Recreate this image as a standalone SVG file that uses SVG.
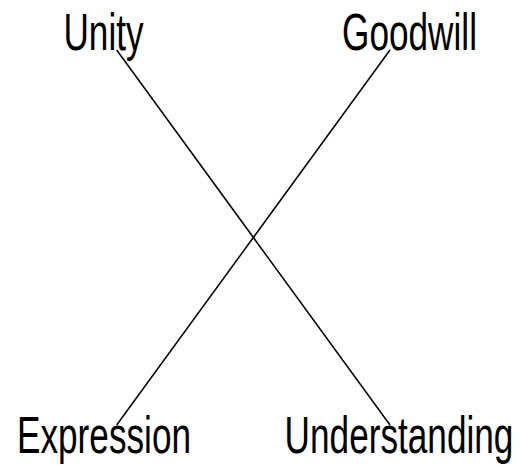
<svg xmlns="http://www.w3.org/2000/svg" width="520" height="465" viewBox="0 0 520 465">
<style>
.lbl{font-family:"Liberation Sans",Arial,sans-serif;font-size:51px;fill:#000;text-anchor:middle}
.edge{stroke:#000;stroke-width:1.5;fill:none}
</style>
<rect width="520" height="465" fill="#fff"/>
<g id="connectors">
<line class="edge" x1="116.7" y1="50" x2="390" y2="425"/>
<line class="edge" x1="390" y1="50" x2="116.7" y2="425"/>
</g>
<g id="unity"><text class="lbl" transform="translate(103.5,50) scale(0.69,1)">Unity</text></g>
<g id="goodwill"><text class="lbl" transform="translate(409.5,50) scale(0.69,1)">Goodwill</text></g>
<g id="expression"><text class="lbl" transform="translate(104,453) scale(0.69,1)">Expression</text></g>
<g id="understanding"><text class="lbl" transform="translate(399,453) scale(0.69,1)">Understanding</text></g>
</svg>
